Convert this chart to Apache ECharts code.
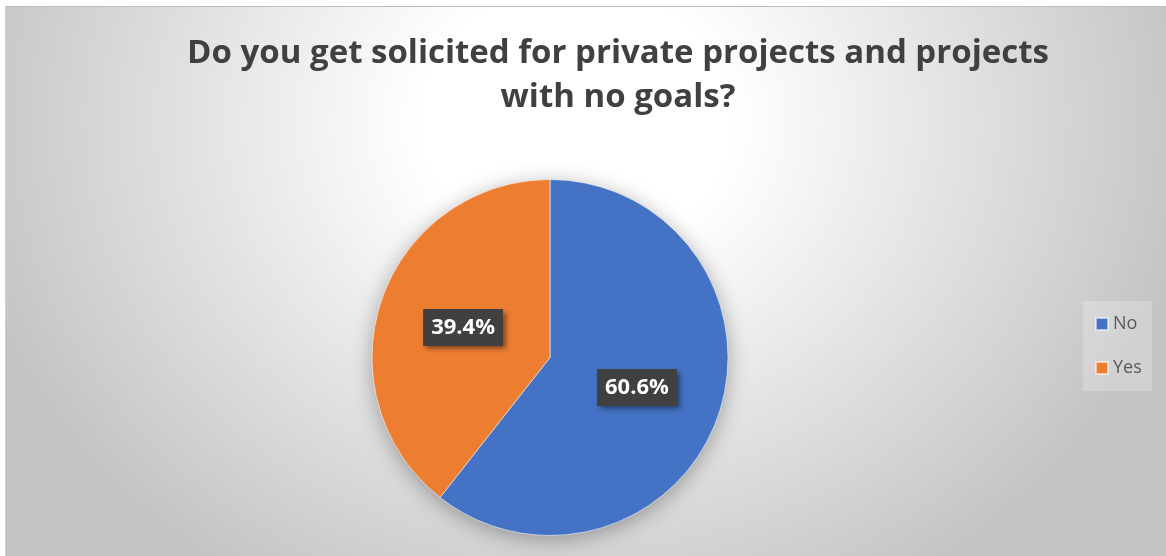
<!DOCTYPE html>
<html>
<head>
<meta charset="utf-8">
<script src="https://cdn.jsdelivr.net/npm/echarts@6/dist/echarts.min.js"></script>
<style>
  html, body { margin: 0; padding: 0; background: #ffffff; }
  #frame {
    position: absolute; left: 5px; top: 6px; width: 1161px; height: 550px;
    box-sizing: border-box;
    border-top: 1px solid #bdbdbd; border-left: 1px solid #d0d0d0;
    background: radial-gradient(ellipse 620px 540px at 570px 114px, #ffffff 0%, #ffffff 25%, #c4c4c4 100%);
  }
  #chart { position: absolute; left: 0; top: 0; width: 1166px; height: 556px; }
</style>
</head>
<body>
<div id="frame"></div>
<div id="chart"></div>
<script>
// Survey answers (percent of respondents)
const titleLines = ['Do you get solicited for private projects and projects', 'with no goals?'];
const categories = ['No', 'Yes'];
const shares = [60.6, 39.4];
const colors = ['#4472C4', '#ED7D31'];

const chart = echarts.init(document.getElementById('chart'), null, { renderer: 'canvas' });

const pieCenter = [550, 357.5];
const pieRadius = 178;

chart.setOption({
  backgroundColor: 'transparent',
  animation: false,
  title: {
    text: titleLines.join('\n'),
    left: 613,
    top: 27,
    textAlign: 'center',
    textStyle: {
      fontFamily: 'Open Sans',
      fontWeight: 'bold',
      fontSize: 33,
      lineHeight: 44,
      color: '#404040'
    }
  },
  legend: {
    orient: 'vertical',
    left: 1083,
    top: 301,
    padding: [14, 10, 14, 12],
    backgroundColor: 'rgba(255,255,255,0.22)',
    itemWidth: 12,
    itemHeight: 12,
    itemGap: 26,
    icon: 'rect',
    data: categories,
    textStyle: { fontFamily: 'Open Sans', fontSize: 18, color: '#595959' }
  },
  series: [
    {
      // soft drop shadow behind the whole pie
      type: 'pie',
      silent: true,
      center: pieCenter,
      radius: pieRadius - 1,
      label: { show: false },
      labelLine: { show: false },
      data: [{ value: 1, name: '__shadow', itemStyle: { color: '#8a8a8a' } }],
      itemStyle: {
        shadowBlur: 22,
        shadowOffsetY: 4,
        shadowColor: 'rgba(0,0,0,0.35)'
      },
      emphasis: { disabled: true },
      z: 1
    },
    {
      type: 'pie',
      center: pieCenter,
      radius: pieRadius,
      startAngle: 90,
      clockwise: true,
      z: 2,
      data: categories.map((name, i) => ({
        name: name,
        value: shares[i],
        itemStyle: { color: colors[i] }
      })),
      itemStyle: { borderColor: 'rgba(255,255,255,0.55)', borderWidth: 1 },
      label: {
        show: true,
        position: 'inside',
        formatter: p => p.value.toFixed(1) + '%',
        fontFamily: 'Open Sans',
        fontWeight: 'bold',
        fontSize: 22,
        color: '#ffffff',
        backgroundColor: '#404040',
        padding: [8, 8, 7, 8],
        shadowColor: 'rgba(0,0,0,0.45)',
        shadowBlur: 5,
        shadowOffsetX: 3,
        shadowOffsetY: 3
      },
      labelLine: { show: false },
      emphasis: { disabled: true }
    }
  ]
});
</script>
</body>
</html>
